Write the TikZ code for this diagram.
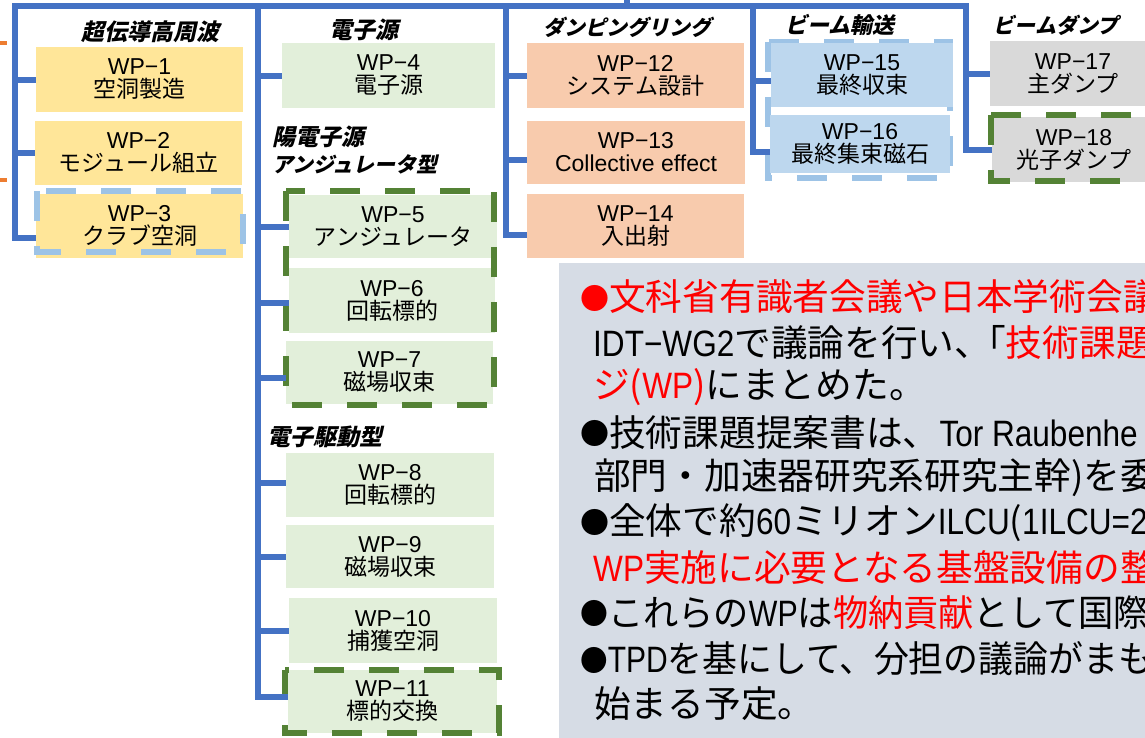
\documentclass[tikz,border=0pt]{standalone}
\usepackage{fontspec}
\setmainfont{Noto Sans CJK JP}
\newfontfamily\latf{Liberation Sans}
\newfontfamily\hdrf[FakeSlant=0.22]{Noto Sans CJK JP}
\newfontfamily\nlatf[FakeStretch=0.86]{Liberation Sans}
\definecolor{busblue}{HTML}{4472C4}
\definecolor{fyel}{HTML}{FFE699}
\definecolor{fgrn}{HTML}{E2EFDA}
\definecolor{forg}{HTML}{F8CBAD}
\definecolor{fblu}{HTML}{BDD7EE}
\definecolor{fgry}{HTML}{D9D9D9}
\definecolor{dgrn}{HTML}{548235}
\definecolor{dblu}{HTML}{9DC3E6}
\definecolor{boxbg}{HTML}{D6DCE5}
\definecolor{stuborange}{HTML}{ED7D31}
\definecolor{txtred}{HTML}{FF0000}
\newcommand\wpl[1]{{\latf WP−#1}}
\newcommand\bul{\raisebox{1.5pt}{\fontsize{29}{40}\selectfont ●}}
\newcommand\rd[1]{\textcolor{txtred}{#1}}
\newcommand\nl[1]{{\nlatf #1}}
\tikzset{
  wpbox/.style={inner sep=0pt, outer sep=0pt, align=center, text=black, font=\fontsize{23}{23}\selectfont},
  bus/.style={draw=busblue, line width=6pt},
  gdash/.style={draw=dgrn, line width=6pt, dash pattern=on 30pt off 25pt},
  bdash/.style={draw=dblu, line width=6pt, dash pattern=on 30pt off 25pt},
  hdrtext/.style={inner sep=0pt, text=black, font=\hdrf\bfseries\fontsize{23}{27}\selectfont},
  hdrkana/.style={inner sep=0pt, text=black, font=\hdrf\bfseries\fontsize{21}{27}\selectfont},
  boxline/.style={anchor=west, inner sep=0pt, text=black, font=\fontsize{36.7}{40}\selectfont},
  stub/.style={draw=stuborange, line width=4pt}
}
\begin{document}
\begin{tikzpicture}[x=1pt,y=-1pt]
\useasboundingbox (0,0) rectangle (1145,737);
\begin{scope}
\clip (0,0) rectangle (1145,737);

% text box background
\node[fill=boxbg, inner sep=0pt, minimum width=600pt, minimum height=480pt, anchor=north west] (tbox) at (559,263) {};

% group border below fills (beam transport)
\draw[bdash] (768,42) rectangle (950,178);

% work package boxes
\node[wpbox, fill=fyel, minimum width=207pt, minimum height=65pt] (wp1) at (139.5,79.5) {\wpl{1}\\空洞製造};
\node[wpbox, fill=fyel, minimum width=207pt, minimum height=64pt] (wp2) at (138.5,153) {\wpl{2}\\モジュール組立};
\node[wpbox, fill=fyel, minimum width=207pt, minimum height=64pt] (wp3) at (139.5,226) {\wpl{3}\\クラブ空洞};

\node[wpbox, fill=fgrn, minimum width=213pt, minimum height=65pt] (wp4) at (388.5,75.5) {\wpl{4}\\電子源};
\node[wpbox, fill=fgrn, minimum width=208pt, minimum height=63pt] (wp5) at (393,226.5) {\wpl{5}\\アンジュレータ};
\node[wpbox, fill=fgrn, minimum width=206pt, minimum height=65pt] (wp6) at (392,300.5) {\wpl{6}\\回転標的};
\node[wpbox, fill=fgrn, minimum width=207pt, minimum height=63pt] (wp7) at (389.5,372.5) {\wpl{7}\\磁場収束};
\node[wpbox, fill=fgrn, minimum width=208pt, minimum height=64pt] (wp8) at (390,485) {\wpl{8}\\回転標的};
\node[wpbox, fill=fgrn, minimum width=208pt, minimum height=63pt] (wp9) at (390,556.5) {\wpl{9}\\磁場収束};
\node[wpbox, fill=fgrn, minimum width=208pt, minimum height=65pt] (wp10) at (393,630.5) {\wpl{10}\\捕獲空洞};
\node[wpbox, fill=fgrn, minimum width=209pt, minimum height=63pt] (wp11) at (392.5,701.5) {\wpl{11}\\標的交換};

\node[wpbox, fill=forg, minimum width=217pt, minimum height=65pt] (wp12) at (635.5,75.5) {\wpl{12}\\システム設計};
\node[wpbox, fill=forg, minimum width=218pt, minimum height=63pt] (wp13) at (636,152.5) {\wpl{13}\\{\latf Collective effect}};
\node[wpbox, fill=forg, minimum width=217pt, minimum height=64pt] (wp14) at (635.5,226) {\wpl{14}\\入出射};

\node[wpbox, fill=fblu, minimum width=182pt, minimum height=64pt] (wp15) at (862,75) {\wpl{15}\\最終収束};
\node[wpbox, fill=fblu, minimum width=180pt, minimum height=58pt] (wp16) at (860,144) {\wpl{16}\\最終集束磁石};

\node[wpbox, fill=fgry, minimum width=166pt, minimum height=65pt] (wp17) at (1073,73.5) {\wpl{17}\\主ダンプ};
\node[wpbox, fill=fgry, minimum width=164pt, minimum height=65pt] (wp18) at (1074,149.5) {\wpl{18}\\光子ダンプ};

% dashed borders on top of fills
\draw[bdash] (37,191) rectangle (243,252);
\draw[gdash] (286,191) rectangle (494,405);
\draw[gdash] (285,670) rectangle (499,733);
\draw[gdash] (991,115) rectangle (1160,181);

% connector tree
\coordinate (root) at (627,0);
\coordinate (rb) at (627,6);
\coordinate (c1) at (15,6);
\coordinate (c2) at (258,6);
\coordinate (c3) at (506,6);
\coordinate (c4) at (753,6);
\coordinate (c5) at (966,6);
\draw[bus] ([yshift=-12pt]wp3.west) -| (c1) -- (c5) |- (wp18.west);
\draw[bus] (root) -- (rb);
\draw[bus] (c1) |- (wp1.west);
\draw[bus] (c1) |- (wp2.west);
\draw[bus] (c2) |- (wp4.west);
\draw[bus] (c2) |- (wp5.west);
\draw[bus] (c2) |- ([yshift=-2.5pt]wp6.west);
\draw[bus] (c2) |- ([yshift=-5.5pt]wp7.west);
\draw[bus] (c2) |- ([yshift=2pt]wp8.west);
\draw[bus] (c2) |- (wp9.west);
\draw[bus] (c2) |- (wp10.west);
\draw[bus] (c2) |- ([yshift=4.5pt]wp11.west);
\draw[bus] (c3) |- (wp12.west);
\draw[bus] (c3) |- ([yshift=-7.5pt]wp13.west);
\draw[bus] (c3) |- ([yshift=-9pt]wp14.west);
\draw[bus] (c4) |- ([yshift=-6pt]wp15.west);
\draw[bus] (c4) |- ([yshift=-8pt]wp16.west);
\draw[bus] (c5) |- (wp17.west);

% orange stubs at the left edge
\coordinate (o1a) at (0,43); \coordinate (o1b) at (7,43);
\coordinate (o2a) at (0,180); \coordinate (o2b) at (7,180);
\draw[stub] (o1a) -- (o1b);
\draw[stub] (o2a) -- (o2b);

% group headings
\node[hdrtext] (h1) at (150,32) {超伝導高周波};
\node[hdrtext] (h2) at (364,30) {電子源};
\node[hdrtext, anchor=west] (h3a) at (272,137) {陽電子源};
\node[hdrkana, anchor=west] (h3b) at (272,164) {アンジュレータ型};
\node[hdrtext, anchor=west] (h4) at (267,437) {電子駆動型};
\node[hdrkana] (h5) at (627,27) {ダンピングリング};
\node[hdrtext, font=\hdrf\bfseries\fontsize{22}{27}\selectfont] (h6) at (840,25) {ビーム輸送};
\node[hdrkana] (h7) at (1056,25) {ビームダンプ};

% text box lines
\node[boxline] (t1) at (580,297) {\rd{\bul 文科省有識者会議や日本学術会議}};
\node[boxline] (t2) at (593,342.5) {\nl{IDT−WG2}で議論を行い、\kern-22pt「\rd{技術課題}};
\node[boxline] (t3) at (593,387.5) {\rd{ジ(\nl{WP})}にまとめた。};
\node[boxline] (t4) at (580,432.5) {\bul 技術課題提案書は、\nl{Tor Raubenhe}};
\node[boxline] (t5) at (594,477.5) {部門・加速器研究系研究主幹)を委};
\node[boxline] (t6) at (580,523) {\bul 全体で約\nl{60}ミリオン\nl{ILCU}(\nl{1ILCU=20}};
\node[boxline] (t7) at (593,567.5) {\rd{\nl{WP}実施に必要となる基盤設備の整}};
\node[boxline] (t8) at (580,612.5) {\scalebox{0.96}[1]{\bul これらの\nl{WP}は\rd{物納貢献}として国際}};
\node[boxline] (t9) at (580,659) {\scalebox{0.95}[1]{\bul \nl{TPD}を基にして、分担の議論がまも}};
\node[boxline] (t10) at (594,704) {始まる予定。};
\end{scope}
\end{tikzpicture}
\end{document}
